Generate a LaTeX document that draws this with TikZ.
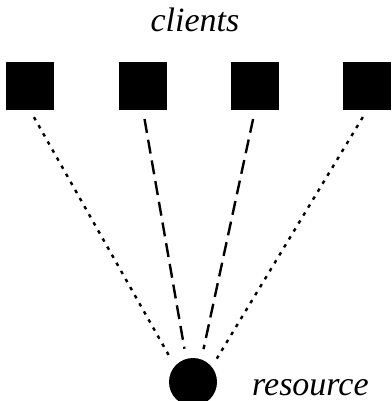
\documentclass[tikz,border=0pt]{standalone}
\usepackage{fontspec}
\setmainfont{Liberation Serif}
\begin{document}
\begin{tikzpicture}[x=1pt, y=-1pt,
    client/.style={fill=black, draw=none, minimum size=48pt, inner sep=0pt},
    res/.style={circle, fill=black, draw=none, minimum size=48pt, inner sep=0pt},
    far/.style={line width=2.4pt, dash pattern=on 3.5pt off 5.8pt, shorten <=8pt, shorten >=46pt},
    near/.style={line width=2.4pt, dash pattern=on 14pt off 7pt, shorten <=9pt, shorten >=50pt},
    lbl/.style={font=\fontsize{34}{40}\selectfont\itshape, inner sep=0pt}]
    \useasboundingbox (0,0) rectangle (391,401);

    % the clients along the top
    \node[lbl] (title) at (195,20) {clients};
    \node[client] (c1) at (30,86) {};
    \node[client] (c2) at (143,86) {};
    \node[client] (c3) at (255,86) {};
    \node[client] (c4) at (367,86) {};

    % the shared resource
    \node[res] (r) at (193,382) {};
    \coordinate (focus) at ([yshift=-16pt]r.center);
    \node[lbl, anchor=base west] (rlbl) at (252,395) {resource};

    % outer clients dotted, inner ones dashed
    \draw[far] (c1.south) -- (focus);
    \draw[near] (c2.south) -- (focus);
    \draw[near] (c3.south) -- (focus);
    \draw[far] (c4.south) -- (focus);
  \end{tikzpicture}
\end{document}
